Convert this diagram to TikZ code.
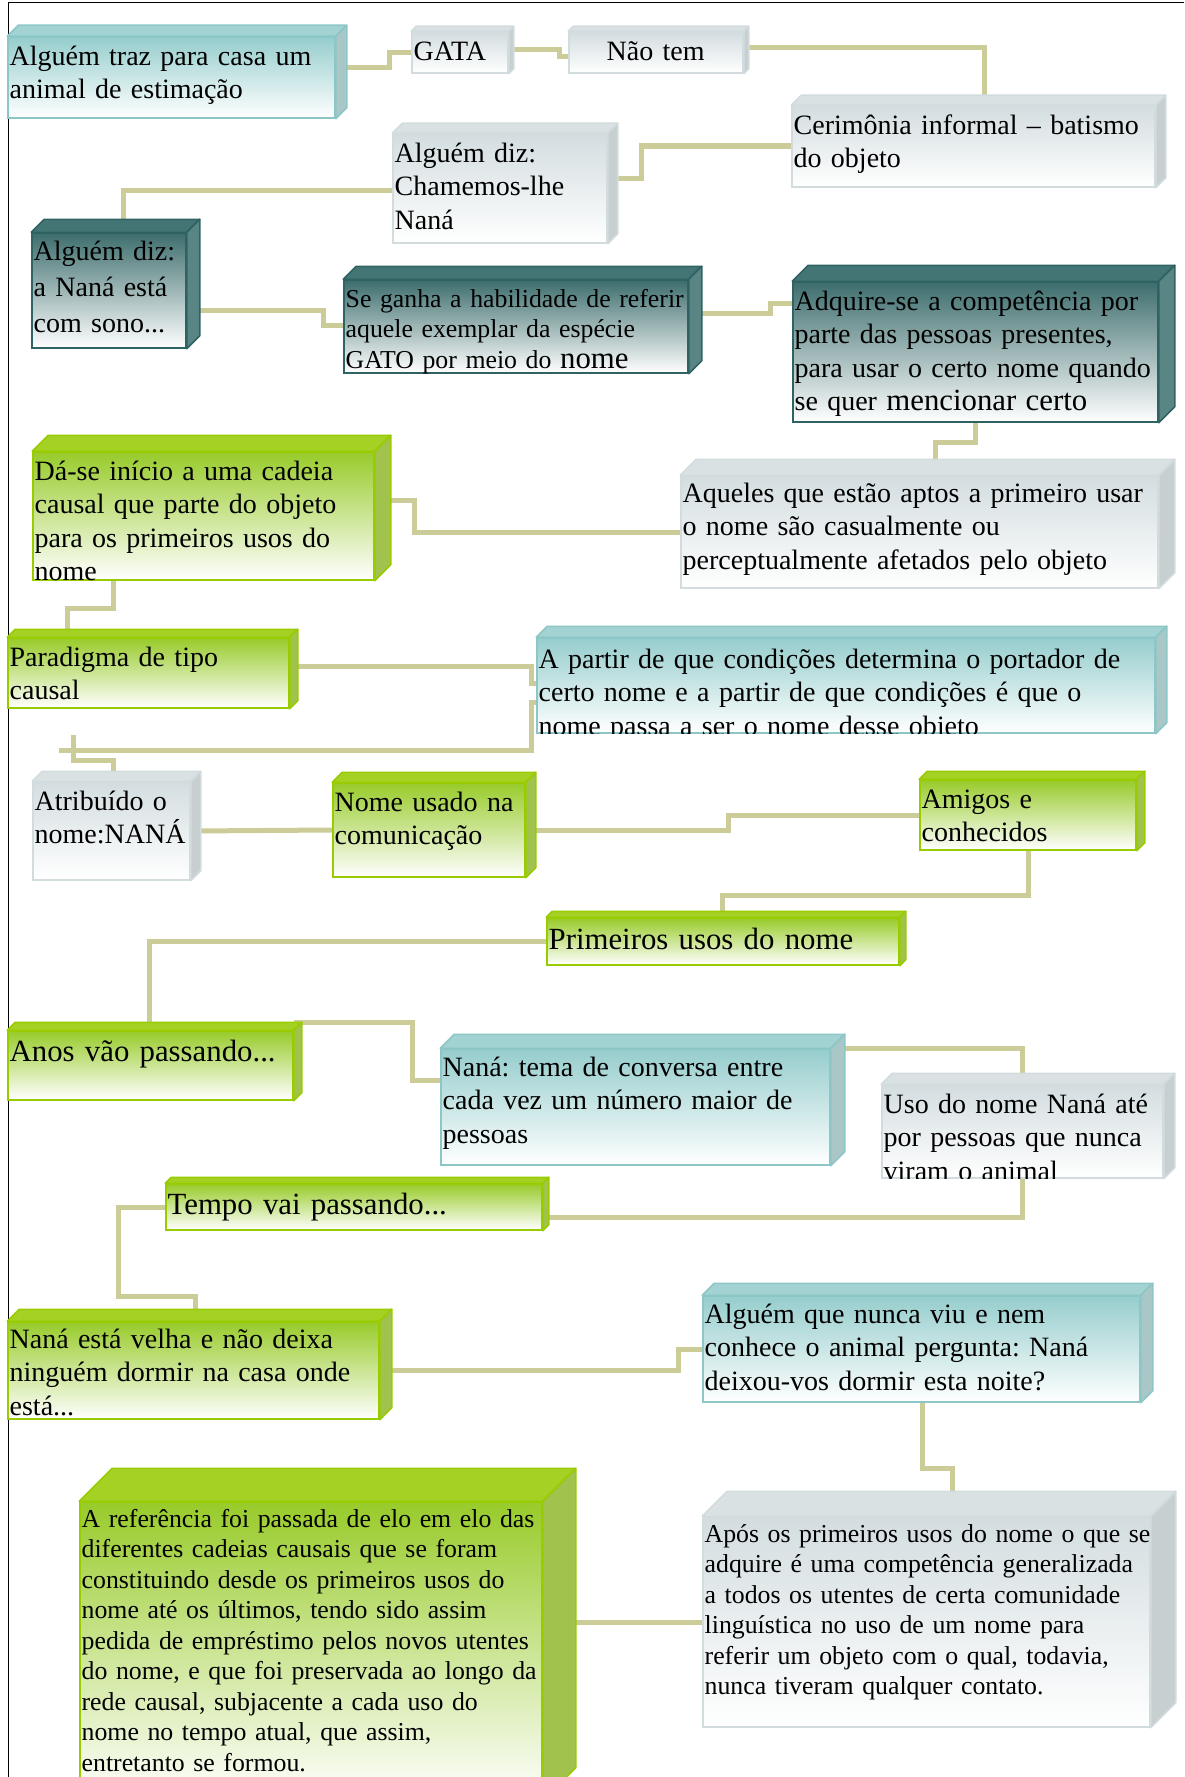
\documentclass[tikz,border=0pt]{standalone}
\usepackage{fontspec}
\setmainfont{Liberation Serif}
\usetikzlibrary{calc,fit,backgrounds}

\definecolor{linha}{HTML}{CCCC99}
\definecolor{cianF}{HTML}{96CDCD}
\definecolor{cianB}{HTML}{8CC6C6}
\definecolor{cianT}{HTML}{A3D2D2}
\definecolor{cianL}{HTML}{A9C7C7}
\definecolor{cinzaF}{HTML}{D3DDE0}
\definecolor{cinzaB}{HTML}{D2DCDE}
\definecolor{cinzaT}{HTML}{D9E1E3}
\definecolor{cinzaL}{HTML}{C8CFD1}
\definecolor{petroF}{HTML}{3D6D6D}
\definecolor{petroB}{HTML}{2F6363}
\definecolor{petroT}{HTML}{437575}
\definecolor{petroL}{HTML}{5A8585}
\definecolor{verdeF}{HTML}{98CB2A}
\definecolor{verdeB}{HTML}{99CC00}
\definecolor{verdeT}{HTML}{A4D124}
\definecolor{verdeL}{HTML}{A2C24E}

\newcommand{\letraN}{\fontsize{14pt}{16.75pt}\selectfont}
\newcommand{\letraP}{\fontsize{12.9pt}{15.25pt}\selectfont}
\newcommand{\letraG}{\fontsize{15.4pt}{18pt}\selectfont}

\tikzset{
	frente/.style={rectangle, inner sep=0pt, line width=0.75pt, draw=#1B, top color=#1F, bottom color=white},
	topo/.style={fill=#1T, draw=#1B, line width=0.75pt, line join=round},
	lado/.style={fill=#1L, draw=#1B, line width=0.75pt, line join=round},
	texto/.style={anchor=base west, inner sep=0pt, text width=320pt, align=left, font=\letraN},
	liga/.style={draw=linha, line width=2.5pt},
}

% caixa em relevo: [opcoes do texto]{cor}{nome}{canto sup. esq.}{canto inf. dir.}{relevo}{texto}
\newcommand{\caixa}[7][]{%
	\node[frente=#2, fit={(#4) (#5)}] (#3) {};
	\filldraw[topo=#2] (#3.north west) -- ++(#6,-#6) -- ($(#3.north east)+(#6,-#6)$) -- (#3.north east) -- cycle;
	\filldraw[lado=#2] (#3.north east) -- ++(#6,-#6) -- ($(#3.south east)+(#6,-#6)$) -- (#3.south east) -- cycle;
	\begin{scope}
		\clip (#3.north west) rectangle (#3.south east);
		\node[texto, #1] (#3-t) at ($(#3.north west)+(2,29)$) {#7};
	\end{scope}
}

\begin{document}
\frenchspacing
\begin{tikzpicture}[x=0.5pt,y=-0.5pt]

		\useasboundingbox (0,0) rectangle (1184,1777);
		\clip (0,0) rectangle (1184,1777);

		\caixa{cian}{traz}{8,37}{335,118}{11}{Alguém traz para casa um\\animal de estimação}
		\caixa{cinza}{gata}{412,32}{508,73}{5}{GATA}
		\caixa[align=center, text width=85pt]{cinza}{naotem}{569,32}{743,73}{5}{Não tem}
		\caixa{cinza}{cerim}{792,106}{1155,187}{10}{Cerimônia informal – batismo\\do objeto}
		\caixa{cinza}{chamemos}{393,134}{607,243}{10}{Alguém diz:\\Chamemos-lhe\\Naná}
		\caixa[font={\fontsize{14pt}{18pt}\selectfont}, yshift=0.5pt]{petro}{sono}{32,233}{186,348}{13}{Alguém diz:\\a Naná está\\com sono...}
		\caixa[font=\letraP, yshift=0.5pt]{petro}{seganha}{344,280}{688,373}{13}{Se ganha a habilidade de referir\\aquele exemplar da espécie\\GATO por meio do {\letraG nome}}
		\caixa{petro}{adquire}{793,282}{1158,422}{16}{Adquire-se a competência por\\parte das pessoas presentes,\\para usar o certo nome quando\\se quer {\letraG mencionar certo}}
		\caixa[yshift=1pt]{cinza}{aqueles}{681,476}{1158,588}{16}{Aqueles que estão aptos a primeiro usar\\o nome são casualmente ou\\perceptualmente afetados pelo objeto}
		\caixa{verde}{dase}{33,452}{374,580}{16}{Dá-se início a uma cadeia\\causal que parte do objeto\\para os primeiros usos do\\nome}
		\caixa{verde}{paradigma}{8,638}{289,708}{8}{Paradigma de tipo\\causal}
		\caixa[yshift=-1pt]{cian}{apartir}{537,638}{1155,733}{11}{A partir de que condições determina o portador de\\certo nome e a partir de que condições é que o\\nome passa a ser o nome desse objeto}
		\caixa{cinza}{atribuido}{33,782}{190,880}{10}{Atribuído o\\nome:NANÁ}
		\caixa{verde}{nomeusado}{333,783}{525,877}{10}{Nome usado na\\comunicação}
		\caixa{verde}{amigos}{920,780}{1136,850}{8}{Amigos e\\conhecidos}
		\caixa[font=\letraG, yshift=-1.5pt]{verde}{primeiros}{547,918}{899,965}{6}{Primeiros usos do nome}
		\caixa[font=\letraG, yshift=-1pt]{verde}{anos}{8,1031}{293,1100}{8}{Anos vão passando...}
		\caixa[yshift=0.5pt]{cian}{tema}{441,1049}{830,1165}{14}{Naná: tema de conversa entre\\cada vez um número maior de\\pessoas}
		\caixa{cinza}{uso}{882,1085}{1163,1178}{11}{Uso do nome Naná até\\por pessoas que nunca\\viram o animal}
		\caixa[font=\letraG, yshift=-1pt]{verde}{tempo}{166,1184}{542,1230}{6}{Tempo vai passando...}
		\caixa[yshift=1pt]{verde}{velha}{8,1322}{379,1419}{12}{Naná está velha e não deixa\\ninguém dormir na casa onde\\está...}
		\caixa[yshift=0.5pt]{cian}{alguemque}{703,1296}{1140,1402}{12}{Alguém que nunca viu e nem\\conhece o animal pergunta: Naná\\deixou-vos dormir esta noite?}
		\caixa[font=\letraP, yshift=1.5pt]{cinza}{apos}{703,1517}{1150,1727}{25}{Após os primeiros usos do nome o que se\\adquire é uma competência generalizada\\a todos os utentes de certa comunidade\\linguística no uso de um nome para\\referir um objeto com o qual, todavia,\\nunca tiveram qualquer contato.}
		\caixa[font=\letraP, yshift=1.5pt]{verde}{referencia}{80,1502}{542,1800}{33}{A referência foi passada de elo em elo das\\diferentes cadeias causais que se foram\\constituindo desde os primeiros usos do\\nome até os últimos, tendo sido assim\\pedida de empréstimo pelos novos utentes\\do nome, e que foi preservada ao longo da\\rede causal, subjacente a cada uso do\\nome no tempo atual, que assim,\\entretanto se formou.}

		\coordinate (fimA) at (59,750);
		\coordinate (pontaA) at (73,735);

		\begin{scope}[on background layer]
			\draw [line width=0.5pt] (8,1777) -- (8,3) -- (1184,3);
			\draw [liga] (traz.east |- 0,68) -- (389,68) |- (gata.west);
			\draw [liga] (gata.east |- 0,50) -- (559,50) |- (naotem.west |- 0,57);
			\draw [liga] (naotem.east |- 0,48) -| (984,0 |- cerim.north);
			\draw [liga] (cerim.west |- 0,146) -- (641,146) |- (chamemos.east |- 0,178);
			\draw [liga] (chamemos.west |- 0,190) -| (123,0 |- sono.north);
			\draw [liga] (sono.east |- 0,310) -- (323,310) |- (seganha.west |- 0,325);
			\draw [liga] (seganha.east |- 0,313) -- (770,313) |- (adquire.west |- 0,303);
			\draw [liga] (adquire.south -| 975,0) -- (975,442) -| (935,0 |- aqueles.north);
			\draw [liga] (aqueles.west |- 0,532) -- (414,532) |- (dase.east |- 0,500);
			\draw [liga] (dase.south -| 113,0) -- (113,608) -| (67,0 |- paradigma.north);
			\draw [liga] (paradigma.east |- 0,666) -- (531,666) |- (apartir.west |- 0,683);
			\draw [liga] (apartir.west |- 0,702) -- (531,702) |- (fimA);
			\draw [liga] (pontaA) |- (113,760) -- (113,0 |- atribuido.north);
			\draw [liga] (atribuido.east) -- (nomeusado.west);
			\draw [liga] (nomeusado.east) -- (728,0 |- nomeusado.east) |- (amigos.west);
			\draw [liga] (amigos.south -| 1028,0) -- (1028,895) -| (722,0 |- primeiros.north);
			\draw [liga] (primeiros.west) -| (149,0 |- anos.north);
			\draw [liga] (anos.north east |- 0,1022) -- (412,1022) |- (tema.west |- 0,1080);
			\draw [liga] (tema.north east) -| (1022,0 |- uso.north);
			\draw [liga] (uso.south -| 1022,0) |- (tempo.east |- 0,1217);
			\draw [liga] (tempo.west) -- (118,0 |- tempo.west) |- (195,1296) -- (195,0 |- velha.north);
			\draw [liga] (velha.east) -- (678,0 |- velha.east) |- (alguemque.west);
			\draw [liga] (alguemque.south -| 922,0) -- (922,1468) -| (952,0 |- apos.north);
			\draw [liga] (apos.west) -- (referencia.east |- apos.west);
		\end{scope}

\end{tikzpicture}
\end{document}
